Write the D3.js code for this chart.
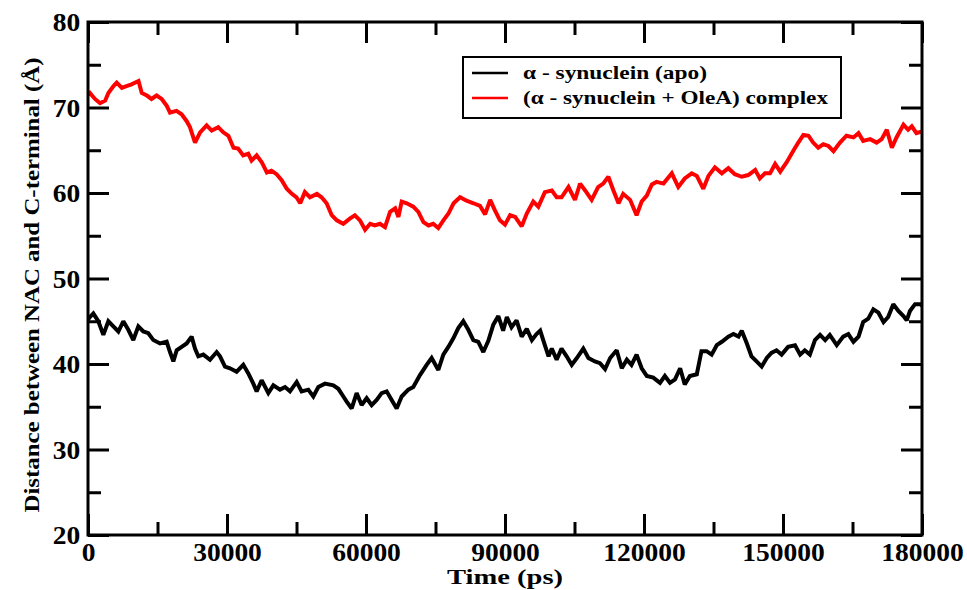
<!DOCTYPE html>
<html>
<head>
<meta charset="utf-8">
<script src="https://cdn.jsdelivr.net/npm/d3@7"></script>
<style>
  html, body { margin: 0; padding: 0; background: #fff; }
</style>
</head>
<body>
<svg id="chart" width="967" height="590"></svg>
<script>
// Simulation time (ps) and NAC–C-terminal distance (Å), apo protein
const apoTime = [0, 430, 1150, 2230, 3310, 4390, 5470, 6550, 7620, 8700, 9780, 10860, 11940, 13020, 14100, 15540, 16980, 17700, 18420, 19140, 20210, 21290, 22370, 23090, 23810, 24890, 26330, 27770, 28490, 29570, 30640, 32080, 33520, 34600, 35680, 36400, 37480, 38920, 40000, 41440, 42520, 43600, 45040, 46110, 47550, 48630, 49710, 51150, 52950, 54030, 55110, 55830, 56910, 57980, 59060, 60140, 61220, 62300, 63380, 64460, 65540, 66620, 67700, 69130, 70210, 71650, 73090, 74170, 75610, 76690, 77770, 78850, 79920, 81000, 82080, 83160, 84240, 85320, 86400, 87480, 88560, 89600, 90400, 91400, 92500, 93600, 94700, 95800, 96800, 97600, 98600, 99400, 100100, 101150, 102200, 103300, 104400, 105500, 106900, 108000, 109400, 110500, 111600, 112700, 114100, 115200, 116300, 117300, 118400, 119500, 120600, 122000, 123450, 124500, 125600, 126700, 127800, 128800, 129900, 131400, 132400, 133500, 134600, 135700, 136800, 138200, 139300, 140400, 141100, 142200, 143200, 144300, 145400, 146500, 147500, 148600, 149700, 151100, 152600, 153700, 154700, 155800, 156900, 158000, 159100, 160100, 161600, 163000, 164100, 165200, 166300, 167300, 168400, 169500, 170600, 171700, 172700, 173800, 174900, 176000, 176700, 177400, 178500, 179600, 180000];
const apoDist = [45.2, 45.5, 45.9, 45.0, 43.4, 45.0, 44.4, 43.8, 45.0, 44.0, 42.8, 44.4, 43.8, 43.6, 42.8, 42.4, 42.6, 41.4, 40.3, 41.6, 42.0, 42.4, 43.2, 41.8, 40.9, 41.1, 40.5, 41.4, 40.9, 39.7, 39.5, 39.1, 39.9, 38.9, 37.7, 36.8, 38.1, 36.6, 37.5, 37.0, 37.3, 36.8, 37.9, 36.8, 37.0, 36.2, 37.3, 37.7, 37.5, 37.1, 36.2, 35.6, 34.8, 36.6, 35.2, 36.0, 35.2, 35.8, 36.6, 36.8, 35.8, 34.8, 36.2, 37.0, 37.3, 38.7, 39.9, 40.7, 39.3, 41.1, 42.0, 43.0, 44.2, 45.0, 44.0, 42.8, 42.6, 41.4, 42.7, 44.6, 45.6, 43.9, 45.5, 44.3, 45.1, 43.2, 44.1, 42.8, 43.5, 43.9, 42.2, 40.9, 41.8, 40.5, 41.8, 40.9, 39.9, 40.7, 41.8, 40.7, 40.3, 40.1, 39.4, 40.7, 41.6, 39.5, 40.5, 39.9, 41.1, 39.5, 38.6, 38.4, 37.8, 38.6, 37.8, 38.2, 39.5, 37.6, 38.6, 38.8, 41.5, 41.5, 41.1, 42.2, 42.6, 43.2, 43.5, 43.2, 43.9, 42.4, 40.9, 40.3, 39.7, 40.7, 41.3, 41.6, 41.1, 42.0, 42.2, 41.1, 41.6, 41.1, 42.8, 43.4, 42.8, 43.4, 42.2, 43.2, 43.5, 42.6, 43.2, 44.9, 45.3, 46.4, 46.0, 44.9, 45.5, 47.0, 46.2, 45.6, 45.1, 46.2, 47.0, 47.0, 46.8];

// Same quantity for the protein bound to OleA
const complexTime = [0, 400, 1500, 2600, 3700, 4400, 5500, 6200, 7300, 8300, 9400, 10900, 11600, 12700, 13700, 14800, 15900, 17000, 17700, 19100, 20200, 21300, 22000, 23100, 24200, 25600, 26700, 28100, 29200, 30300, 31400, 32400, 33500, 34600, 35300, 36400, 37500, 38600, 39600, 40700, 41800, 42900, 44000, 45000, 45800, 46800, 47900, 49400, 50400, 51500, 52600, 53700, 55100, 56500, 57600, 58700, 59800, 60900, 61900, 63000, 64100, 65200, 66300, 67000, 67700, 68800, 70200, 71300, 72400, 73500, 74500, 75600, 76700, 77800, 78900, 80300, 81700, 83200, 84600, 85700, 86800, 87800, 88900, 90000, 91100, 92200, 93600, 94700, 96100, 97200, 98600, 100100, 101150, 102200, 103700, 105100, 106200, 107300, 108700, 110100, 111200, 112300, 113400, 114500, 115500, 117000, 118400, 119500, 120600, 121700, 122700, 124200, 126000, 127400, 128800, 130300, 131400, 132800, 133900, 135300, 136800, 138200, 139600, 141100, 142500, 144000, 145000, 146100, 147200, 148300, 149400, 150800, 152200, 153300, 154400, 155500, 156500, 157600, 158700, 159800, 160900, 162300, 163700, 165200, 166300, 167300, 168800, 170200, 171300, 172400, 173500, 174500, 176000, 177000, 177800, 178800, 180000];
const complexDist = [71.5, 71.7, 71.0, 70.5, 70.8, 71.7, 72.5, 72.9, 72.3, 72.5, 72.7, 73.1, 71.7, 71.4, 71.0, 71.4, 71.0, 70.2, 69.4, 69.6, 69.2, 68.4, 67.7, 65.9, 67.1, 67.9, 67.3, 67.7, 67.1, 66.7, 65.3, 65.2, 64.4, 64.6, 63.8, 64.4, 63.6, 62.4, 62.6, 62.2, 61.5, 60.5, 59.9, 59.5, 58.8, 60.1, 59.5, 59.9, 59.5, 58.8, 57.4, 56.8, 56.4, 57.0, 57.4, 56.8, 55.7, 56.4, 56.2, 56.4, 56.0, 57.8, 58.2, 57.2, 59.0, 58.8, 58.4, 57.8, 56.6, 56.2, 56.4, 55.9, 56.8, 57.6, 58.8, 59.5, 59.1, 58.8, 58.5, 57.5, 59.2, 58.0, 56.8, 56.3, 57.4, 57.2, 56.1, 57.6, 59.0, 58.4, 60.1, 60.3, 59.5, 59.5, 60.7, 59.2, 61.1, 60.3, 59.2, 60.7, 61.1, 61.9, 60.3, 58.8, 59.9, 59.2, 57.4, 59.0, 59.7, 61.0, 61.3, 61.1, 62.3, 60.7, 61.7, 62.3, 62.0, 60.5, 62.0, 63.0, 62.3, 62.9, 62.2, 61.9, 62.1, 62.7, 61.7, 62.3, 62.3, 63.4, 62.5, 63.6, 64.9, 65.9, 66.8, 66.7, 65.9, 65.3, 65.7, 65.5, 64.9, 65.9, 66.7, 66.5, 67.0, 66.1, 66.3, 65.9, 66.3, 67.4, 65.3, 66.5, 68.0, 67.4, 67.8, 67.0, 67.2];

// Axis ticks and labels
const xMajorTicks = [0, 30000, 60000, 90000, 120000, 150000, 180000];
const xMinorTicks = [15000, 45000, 75000, 105000, 135000, 165000];
const yMajorTicks = [20, 30, 40, 50, 60, 70, 80];
const yMinorTicks = [25, 35, 45, 55, 65, 75];

const seriesNames = ["\u03b1 - synuclein (apo)", "(\u03b1 - synuclein + OleA) complex"];
const seriesColors = ["#000000", "#ff0000"];
const xTitle = "Time (ps)";
const yTitle = "Distance between NAC and C-terminal (\u00c5)";

const serifFont = "'Liberation Serif', Tinos, 'Times New Roman', Times, serif";

const svg = d3.select("#chart");
const plotLeft = 88, plotRight = 922, plotTop = 22, plotBottom = 535;

const x = d3.scaleLinear().domain([0, 180000]).range([plotLeft, plotRight]);
const y = d3.scaleLinear().domain([20, 80]).range([plotBottom, plotTop]);

const series = [
  { name: seriesNames[0], color: seriesColors[0], pts: apoTime.map((t, i) => [t, apoDist[i]]) },
  { name: seriesNames[1], color: seriesColors[1], pts: complexTime.map((t, i) => [t, complexDist[i]]) }
];

const line = d3.line().x(d => x(d[0])).y(d => y(d[1]));

// Data traces, clipped to the frame
svg.append("clipPath").attr("id", "plotclip")
  .append("rect").attr("x", plotLeft).attr("y", plotTop)
  .attr("width", plotRight - plotLeft).attr("height", plotBottom - plotTop);

svg.append("g").attr("clip-path", "url(#plotclip)")
  .selectAll("path").data(series).join("path")
  .attr("d", d => line(d.pts))
  .attr("fill", "none")
  .attr("stroke", d => d.color)
  .attr("stroke-width", 4)
  .attr("stroke-linejoin", "miter")
  .attr("stroke-miterlimit", 2);

// Inward ticks on all four sides
function styleAxis(g) {
  g.attr("font-family", null).attr("font-size", null);
  g.select(".domain").remove();
  g.selectAll(".tick line").attr("stroke", "#000").attr("stroke-width", 3);
  g.selectAll(".tick text")
    .style("font-family", serifFont).style("font-weight", "bold")
    .style("font-size", "25px").attr("fill", "#000")
    .attr("transform", "scale(1.1,1)");
}
const majorLen = 21, minorLen = 13;

svg.append("g").attr("transform", `translate(0,${plotBottom})`)
  .call(d3.axisBottom(x).tickValues(xMajorTicks).tickSize(-majorLen).tickFormat(d3.format("d")))
  .call(styleAxis)
  .call(g => g.selectAll(".tick text").attr("dy", null).attr("y", 26));
svg.append("g").attr("transform", `translate(0,${plotBottom})`)
  .call(d3.axisBottom(x).tickValues(xMinorTicks).tickSize(-minorLen).tickFormat(""))
  .call(styleAxis);
svg.append("g").attr("transform", `translate(0,${plotTop})`)
  .call(d3.axisTop(x).tickValues(xMajorTicks).tickSize(-majorLen).tickFormat(""))
  .call(styleAxis);
svg.append("g").attr("transform", `translate(0,${plotTop})`)
  .call(d3.axisTop(x).tickValues(xMinorTicks).tickSize(-minorLen).tickFormat(""))
  .call(styleAxis);

svg.append("g").attr("transform", `translate(${plotLeft},0)`)
  .call(d3.axisLeft(y).tickValues(yMajorTicks).tickSize(-majorLen))
  .call(styleAxis)
  .call(g => g.selectAll(".tick text").attr("x", -7).attr("dy", "0.34em"));
svg.append("g").attr("transform", `translate(${plotLeft},0)`)
  .call(d3.axisLeft(y).tickValues(yMinorTicks).tickSize(-minorLen).tickFormat(""))
  .call(styleAxis);
svg.append("g").attr("transform", `translate(${plotRight},0)`)
  .call(d3.axisRight(y).tickValues(yMajorTicks).tickSize(-majorLen).tickFormat(""))
  .call(styleAxis);
svg.append("g").attr("transform", `translate(${plotRight},0)`)
  .call(d3.axisRight(y).tickValues(yMinorTicks).tickSize(-minorLen).tickFormat(""))
  .call(styleAxis);

// Frame
svg.append("rect")
  .attr("x", plotLeft).attr("y", plotTop)
  .attr("width", plotRight - plotLeft).attr("height", plotBottom - plotTop)
  .attr("fill", "none").attr("stroke", "#000").attr("stroke-width", 3);

function serifText(sel, size) {
  return sel.style("font-family", serifFont).style("font-weight", "bold")
    .style("font-size", size + "px").attr("fill", "#000");
}

// Axis titles
svg.append("text")
  .attr("x", 505).attr("y", 584)
  .attr("text-anchor", "middle")
  .attr("textLength", 116).attr("lengthAdjust", "spacingAndGlyphs")
  .call(serifText, 22)
  .text(xTitle);

svg.append("text")
  .attr("transform", "translate(39,285) rotate(-90)")
  .attr("text-anchor", "middle")
  .attr("textLength", 455).attr("lengthAdjust", "spacingAndGlyphs")
  .call(serifText, 22)
  .text(yTitle);

// Legend
const legend = svg.append("g");
legend.append("rect")
  .attr("x", 463).attr("y", 57).attr("width", 378).attr("height", 61)
  .attr("fill", "#fff").attr("stroke", "#000").attr("stroke-width", 2);
const legendRowY = [73, 98];
const legendLen = [184, 305];
series.forEach((s, i) => {
  legend.append("line")
    .attr("x1", 472).attr("x2", 508).attr("y1", legendRowY[i]).attr("y2", legendRowY[i])
    .attr("stroke", s.color).attr("stroke-width", 2.5);
  legend.append("text")
    .attr("x", 523).attr("y", legendRowY[i] + 6)
    .attr("textLength", legendLen[i]).attr("lengthAdjust", "spacingAndGlyphs")
    .call(serifText, 18)
    .text(s.name);
});
</script>
</body>
</html>
